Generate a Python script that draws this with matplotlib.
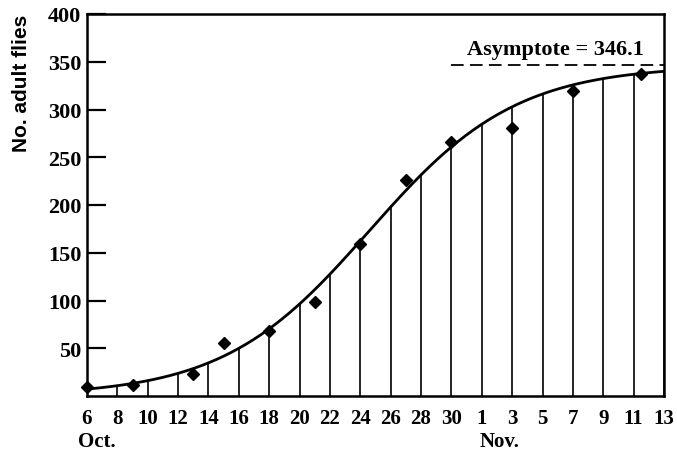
import numpy as np
import matplotlib
matplotlib.use("Agg")
import matplotlib.pyplot as plt
from matplotlib.transforms import blended_transform_factory

# Days counted from 6 October; ticks every second day
tick_days = [0, 2, 4, 6, 8, 10, 12, 14, 16, 18, 20, 22, 24, 26, 28, 30, 32, 34, 36, 38]
tick_labels = ['6', '8', '10', '12', '14', '16', '18', '20', '22', '24', '26',
               '28', '30', '1', '3', '5', '7', '9', '11', '13']
y_ticks = [50, 100, 150, 200, 250, 300, 350, 400]

# Observed counts of adult flies
obs_day = [0, 3, 7, 9, 12, 15, 18, 21, 24, 28, 32, 36.5]
obs_flies = [9, 12, 23, 56, 68, 98, 159, 226, 266, 281, 319, 337]

# Fitted logistic growth curve
asymptote = 346.1
growth_rate = 0.207
midpoint_day = 18.6


def logistic(t):
    return asymptote / (1.0 + np.exp(-growth_rate * (np.asarray(t) - midpoint_day)))


serif = ['Liberation Serif', 'DejaVu Serif']
sans = ['Liberation Sans', 'DejaVu Sans']

fig = plt.figure(figsize=(6.77, 4.56), dpi=100)
fig.patch.set_facecolor('white')
ax = fig.add_axes([87 / 677, 59 / 456, 577 / 677, 382 / 456])

# Vertical rules from the axis up to the curve at each tick
tick_arr = np.array(tick_days, dtype=float)
ax.vlines(tick_arr, 0, logistic(tick_arr), color='black', linewidth=1.2, zorder=2)

# Smooth logistic curve
t = np.linspace(tick_days[0], tick_days[-1], 400)
ax.plot(t, logistic(t), color='black', linewidth=2.0, zorder=3)

# Observations
ax.plot(obs_day, obs_flies, linestyle='none', marker='D', markersize=6.5,
        color='black', zorder=4, clip_on=False)

# Asymptote
ax.plot([24, 38], [asymptote, asymptote], color='black', linewidth=1.3,
        dashes=(7, 3.5), zorder=3)
ax.text(36.7, 363, 'Asymptote = 346.1', ha='right', va='center',
        fontsize=16, fontweight='bold', family=serif)

ax.set_xlim(0, 38)
ax.set_ylim(0, 400)
ax.set_xticks(tick_days)
ax.set_xticklabels(tick_labels, family=serif, fontsize=15, fontweight='bold')
ax.set_yticks(y_ticks)
ax.set_yticklabels([str(v) for v in y_ticks], family=serif, fontsize=16,
                   fontweight='bold')
ax.tick_params(axis='x', length=0, pad=9)
ax.tick_params(axis='y', direction='in', length=14, width=1.6, pad=4)

for s in ax.spines.values():
    s.set_linewidth(1.8)

ax.set_ylabel('No. adult flies', family=sans, fontsize=15, fontweight='bold')
ax.yaxis.set_label_coords(-0.097, 0.82)

trans = blended_transform_factory(ax.transData, ax.transAxes)
ax.text(-0.6, -0.118, 'Oct.', transform=trans, ha='left', va='center',
        fontsize=15, fontweight='bold', family=serif)
ax.text(27.2, -0.118, 'Nov.', transform=trans, ha='center', va='center',
        fontsize=15, fontweight='bold', family=serif)

fig.savefig('out.png', dpi=100, facecolor='white')
